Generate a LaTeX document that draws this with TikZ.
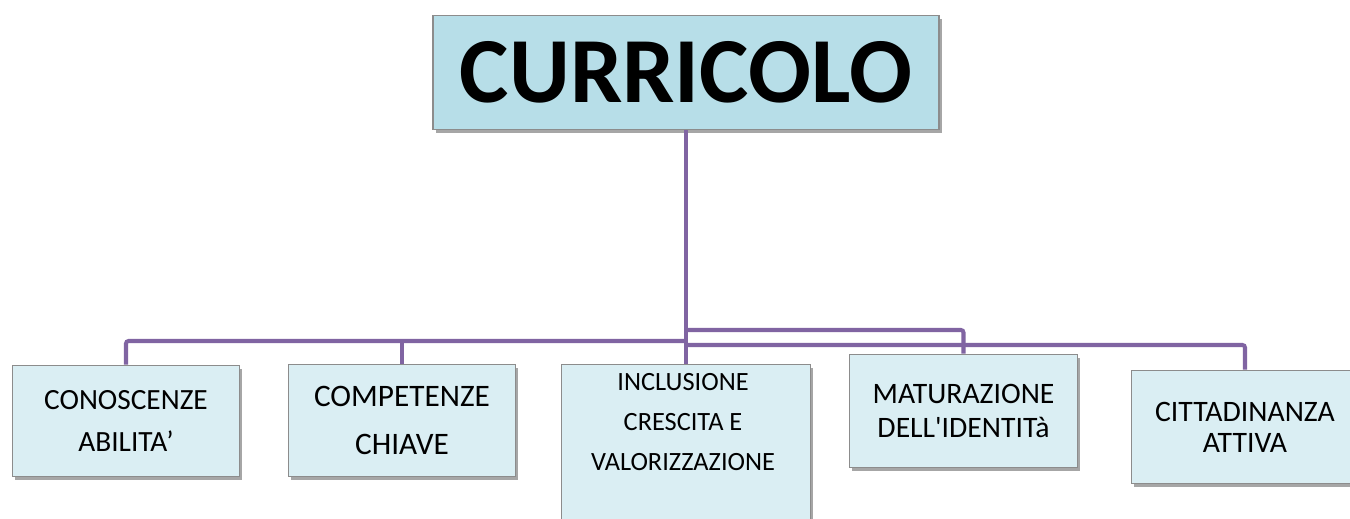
\documentclass[tikz,border=0pt]{standalone}
\usepackage{fontspec}
\setmainfont{Carlito}
\usepackage{xcolor}
\usetikzlibrary{shadows}
\definecolor{titlefill}{HTML}{B7DEE8}
\definecolor{boxfill}{HTML}{DAEEF3}
\definecolor{boxline}{HTML}{8C8C8C}
\definecolor{linkcol}{HTML}{8064A2}

\begin{document}
\begin{tikzpicture}[x=0.02cm,y=-0.02cm,
    box/.style={draw=boxline, line width=0.8pt, fill=boxfill, inner sep=0pt, align=center,
        drop shadow={shadow xshift=1.5pt, shadow yshift=-2pt, opacity=0.35, fill=black}},
    link/.style={draw=linkcol, line width=2.3pt, rounded corners=1.5pt}]
        \clip (0,0) rectangle (1350,519);
        \fill[white] (0,0) rectangle (1350,519);
        \node[box, fill=titlefill, minimum width=288pt, minimum height=65pt,
            font=\bfseries\fontsize{53}{60}\selectfont] (curricolo) at (686,72.5) {CURRICOLO};
        \node[box, minimum width=129pt, minimum height=63.5pt,
            font=\fontsize{16.7}{23.8}\selectfont] (conoscenze) at (126,421) {
            CONOSCENZE\\ABILITA’
        };
        \node[box, minimum width=129pt, minimum height=64pt,
            font=\fontsize{17.8}{27.8}\selectfont] (competenze) at (402,420.5) {
            COMPETENZE\\CHIAVE
        };
        \node[box, anchor=north, font=\fontsize{15}{22.7}\selectfont] (inclusione) at (686,364) {
            \parbox[c][100pt][t]{138.3pt}{\centering\vspace*{5pt}INCLUSIONE\\CRESCITA E\\VALORIZZAZIONE}
        };
        \node[box, minimum width=130pt, minimum height=64.6pt,
            font=\fontsize{16.9}{19.3}\selectfont] (maturazione) at (963.5,411) {
            MATURAZIONE\\DELL{\addfontfeatures{Ligatures=TeXOff}'}IDENTITà
        };
        \node[box, minimum width=129pt, minimum height=64.6pt,
            font=\fontsize{16.9}{17.6}\selectfont] (cittadinanza) at (1245,427) {
            CITTADINANZA\\ATTIVA
        };
        \coordinate (hubL) at (686,341);
        \coordinate (hubM) at (686,330);
        \coordinate (hubR) at (686,345);
        \draw[link] (curricolo.south) -- (inclusione.north);
        \draw[link] (hubL) -| (conoscenze.north);
        \draw[link] (competenze.north |- hubL) -- (competenze.north);
        \draw[link] (hubM) -| (maturazione.north);
        \draw[link] (hubR) -| (cittadinanza.north);
    \end{tikzpicture}
\end{document}
